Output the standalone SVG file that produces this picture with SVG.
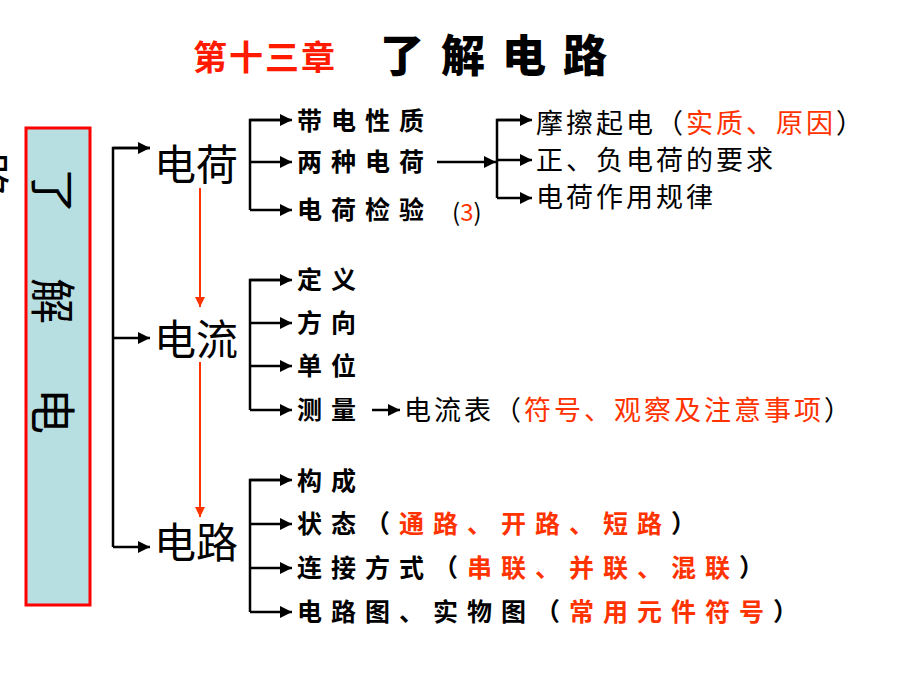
<svg xmlns="http://www.w3.org/2000/svg" width="920" height="690" viewBox="0 0 920 690">
<defs>
<marker id="ah" viewBox="0 0 10 10" refX="10" refY="5" markerWidth="5" markerHeight="5" orient="auto"><path d="M0,0L10,5L0,10z" fill="#000"/></marker>
<marker id="ar" viewBox="0 0 10 10" refX="10" refY="5" markerWidth="5" markerHeight="5" orient="auto"><path d="M0,0L10,5L0,10z" fill="#ff3300"/></marker>
<style>
.c{stroke:#000;stroke-width:2.5;fill:none}
.a{stroke:#000;stroke-width:2.5;fill:none;marker-end:url(#ah)}
.r{stroke:#ff3300;stroke-width:2;marker-end:url(#ar)}
text{font-family:"Noto Sans CJK SC","Liberation Sans",sans-serif;fill:#000}
.big{font-size:42px}
.s{font-size:25px;font-weight:bold;letter-spacing:9px}
.m{font-size:27px;letter-spacing:3px}
.v{font-size:46px}
.red{fill:#ff3300}
</style>
</defs>
<rect width="920" height="690" fill="#fff"/>
<g id="title">
<text x="193" y="70" font-size="34" font-weight="bold" style="fill:#ff1a00" letter-spacing="2">第十三章</text>
<text x="380" y="72" font-size="44" font-weight="900" letter-spacing="17">了解电路</text>
</g>
<g id="sidebox">
<rect x="26" y="128" width="64" height="477" fill="#b7dee1" stroke="#ff0000" stroke-width="3"/>
<text transform="translate(36,168) rotate(90)" class="v">了</text>
<text transform="translate(36,278) rotate(90)" class="v">解</text>
<text transform="translate(36,388) rotate(90)" class="v">电</text>
<text transform="translate(-30,152) rotate(90)" class="v">路</text>
</g>
<g id="connectors">
<path class="c" d="M150,148H113V547"/>
<path class="a" d="M113,148H150"/><path class="a" d="M113,338H150"/><path class="a" d="M113,547H150"/>
<path class="r" d="M200,188V307"/><path class="r" d="M200,362V517"/>
<path class="c" d="M290,120H250V210"/>
<path class="a" d="M250,120H292"/><path class="a" d="M250,162H292"/><path class="a" d="M250,210H292"/>
<path class="a" d="M437,162H496"/>
<path class="c" d="M530,120H497V198"/>
<path class="a" d="M497,120H532"/><path class="a" d="M497,160H532"/><path class="a" d="M497,198H532"/>
<path class="c" d="M290,280H250V410"/>
<path class="a" d="M250,280H292"/><path class="a" d="M250,323H292"/><path class="a" d="M250,366H292"/><path class="a" d="M250,410H292"/>
<path class="a" d="M372,410H400"/>
<path class="c" d="M290,480H250V612"/>
<path class="a" d="M250,480H292"/><path class="a" d="M250,524H292"/><path class="a" d="M250,568H292"/><path class="a" d="M250,612H292"/>
</g>
<g id="n-charge"><text x="154" y="180" class="big">电荷</text></g>
<g id="n-current"><text x="154" y="355" class="big">电流</text></g>
<g id="n-circuit"><text x="154" y="558" class="big">电路</text></g>
<g id="charge-items">
<text x="297" y="130" class="s">带电性质</text>
<text x="297" y="171" class="s">两种电荷</text>
<text x="297" y="219" class="s">电荷检验</text>
<text x="452" y="221" font-size="24" font-family="Liberation Serif,serif">(<tspan class="red">3</tspan>)</text>
<text x="536" y="133" class="m">摩擦起电（<tspan class="red">实质、原因</tspan>）</text>
<text x="536" y="170" class="m">正、负电荷的要求</text>
<text x="536" y="207" class="m">电荷作用规律</text>
</g>
<g id="current-items">
<text x="297" y="289" class="s">定义</text>
<text x="297" y="332" class="s">方向</text>
<text x="297" y="375" class="s">单位</text>
<text x="297" y="419" class="s">测量</text>
<text x="404" y="420" class="m" letter-spacing="5">电流表（<tspan class="red">符号、观察及注意事项</tspan>）</text>
</g>
<g id="circuit-items">
<text x="297" y="490" class="s">构成</text>
<text x="297" y="533" class="s">状态（<tspan class="red">通路、开路、短路</tspan>）</text>
<text x="297" y="577" class="s">连接方式（<tspan class="red">串联、并联、混联</tspan>）</text>
<text x="297" y="621" class="s">电路图、实物图（<tspan class="red">常用元件符号</tspan>）</text>
</g>
</svg>
